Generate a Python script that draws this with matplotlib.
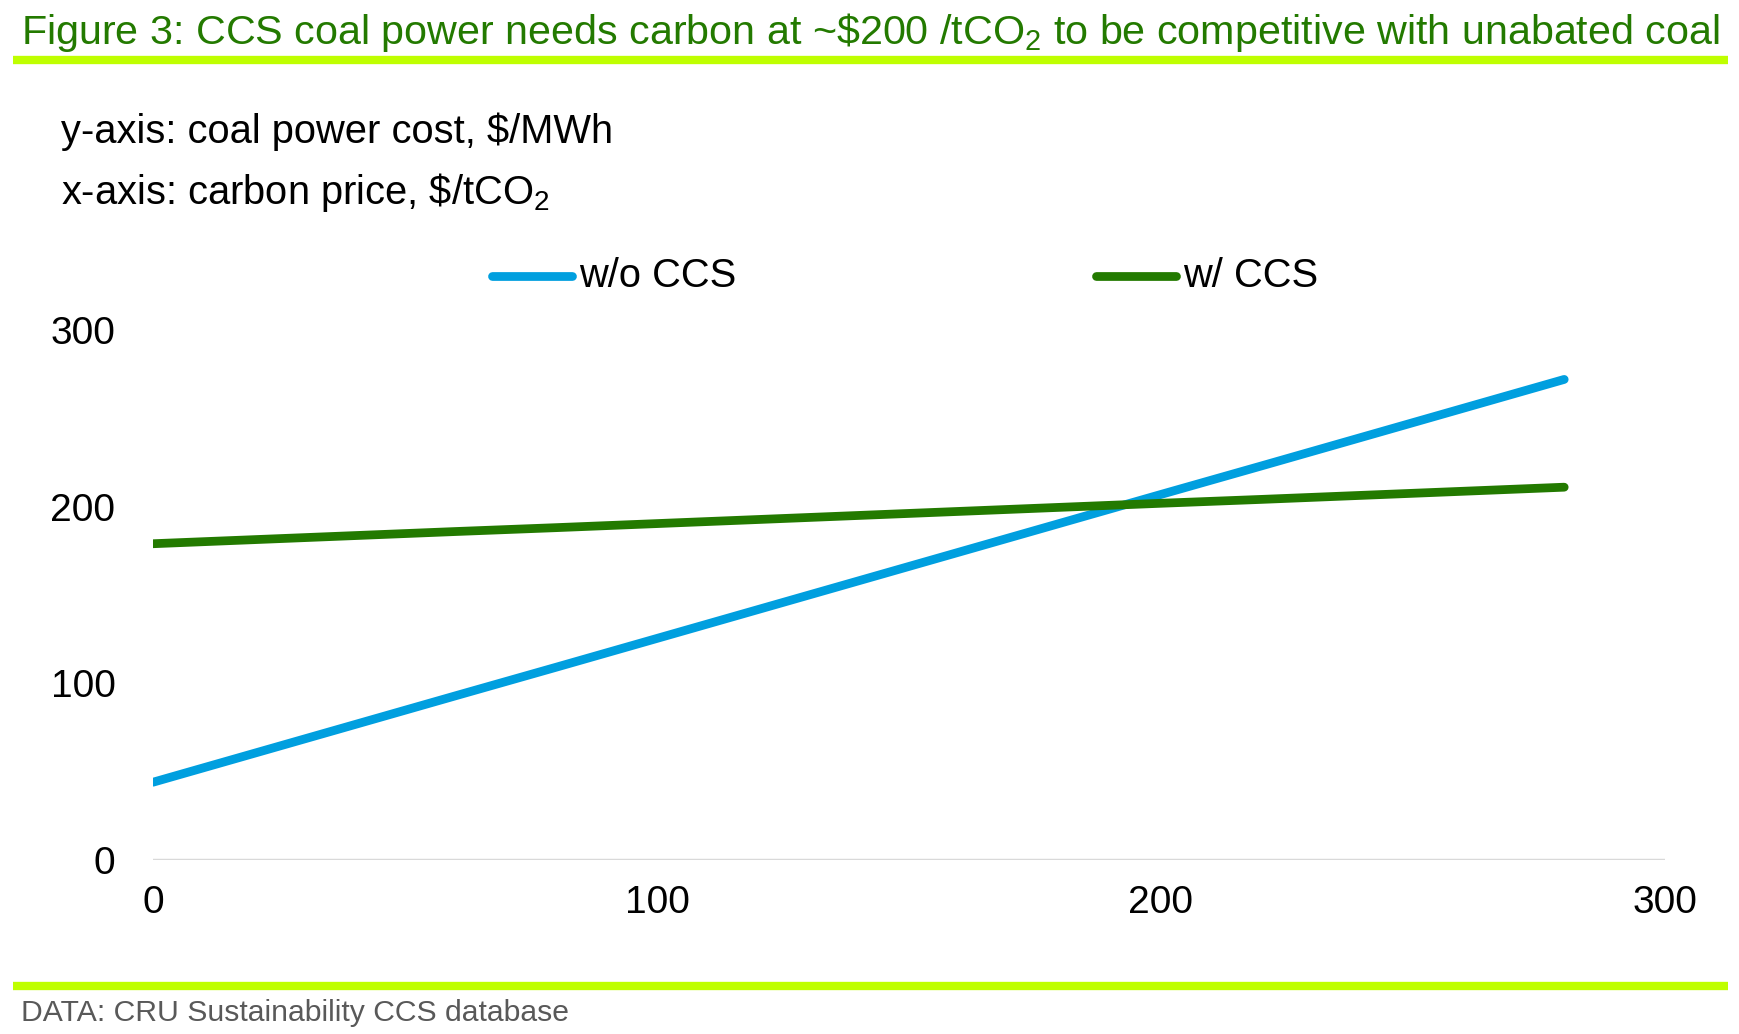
import matplotlib
matplotlib.use("Agg")
import matplotlib.pyplot as plt
from matplotlib.lines import Line2D

# carbon price, $/tCO2
carbon_price = [0, 20, 40, 60, 80, 100, 120, 140, 160, 180, 200, 220, 240, 260, 280]
# coal power cost, $/MWh
cost_no_ccs = [44, 60.3, 76.6, 92.9, 109.1, 125.4, 141.7, 158, 174.3, 190.6, 206.9, 223.1, 239.4, 255.7, 272]
cost_ccs = [179, 181.3, 183.6, 185.9, 188.1, 190.4, 192.7, 195, 197.3, 199.6, 201.9, 204.1, 206.4, 208.7, 211]

series_names = ["w/o CCS", "w/ CCS"]
xticks = [0, 100, 200, 300]
yticks = [0, 100, 200, 300]

blue = "#009fdf"
green = "#237a00"
lime = "#bfff00"

plt.rcParams['font.family'] = ['Liberation Sans', 'DejaVu Sans']
plt.rcParams['mathtext.fontset'] = 'custom'
plt.rcParams['mathtext.rm'] = 'Liberation Sans'
plt.rcParams['mathtext.it'] = 'Liberation Sans'

fig = plt.figure(figsize=(17.4, 10.34), dpi=100)
ax = fig.add_axes([0.0879, 0.1683, 0.869, 0.5126])

ax.plot(carbon_price, cost_no_ccs, color=blue, lw=6.3, solid_capstyle='round', zorder=3)
ax.plot(carbon_price, cost_ccs, color=green, lw=6.3, solid_capstyle='round', zorder=3)
ax.axhline(0, color="#d9d9d9", lw=2.5, zorder=1)

ax.set_xlim(0, 300)
ax.set_ylim(0, 300)
ax.set_xticks(xticks)
ax.set_yticks(yticks)
ax.tick_params(length=0, labelsize=28, pad=18)
ax.tick_params(axis='y', pad=27)
for s in ax.spines.values():
    s.set_visible(False)

# title and rules
fig.text(0.012, 0.969, "Figure 3: CCS coal power needs carbon at ~\\$200 /tCO$_2$ to be competitive with unabated coal",
         color=green, fontsize=29.7, va='center', ha='left')
fig.add_artist(Line2D([0.0077, 0.993], [0.942, 0.942], color=lime, lw=6,
                      solid_capstyle='butt', transform=fig.transFigure))
fig.add_artist(Line2D([0.0077, 0.993], [0.046, 0.046], color=lime, lw=6,
                      solid_capstyle='butt', transform=fig.transFigure))
fig.text(0.012, 0.020, "DATA: CRU Sustainability CCS database", color="#595959", fontsize=21.7,
         va='center', ha='left')

fig.text(0.035, 0.873, "y-axis: coal power cost, \\$/MWh", fontsize=28.7, va='center', ha='left')
fig.text(0.035, 0.814, "x-axis: carbon price, \\$/tCO$_2$", fontsize=28.7, va='center', ha='left')

# legend
for x0, c, name in [(0.283, blue, series_names[0]), (0.630, green, series_names[1])]:
    fig.add_artist(Line2D([x0, x0 + 0.046], [0.733, 0.733], color=c, lw=6.3,
                          solid_capstyle='round', transform=fig.transFigure))
    fig.text(x0 + 0.050, 0.733, name, fontsize=28.7, va='center', ha='left')

fig.savefig("out.png", dpi=100)
